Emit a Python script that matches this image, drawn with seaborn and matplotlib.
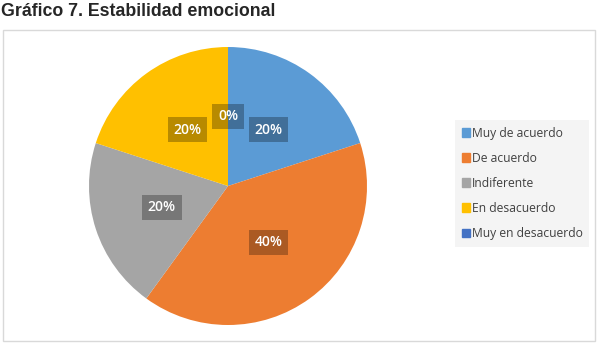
import matplotlib
matplotlib.use("Agg")
import matplotlib.pyplot as plt
import matplotlib.patches as mpatches
import seaborn as sns

categorias = ["Muy de acuerdo", "De acuerdo", "Indiferente", "En desacuerdo", "Muy en desacuerdo"]
porcentajes = [20, 40, 20, 20, 0]
colores = ["#5B9BD5", "#ED7D31", "#A5A5A5", "#FFC000", "#4472C4"]
titulo = "Gráfico 7. Estabilidad emocional"

sns.set_theme(style="white")
plt.rcParams['font.family'] = ['Open Sans', 'DejaVu Sans']

W, H = 598, 351
fig = plt.figure(figsize=(W / 100, H / 100), dpi=100)

# marco del grafico
fig.patches.append(mpatches.Rectangle((3 / W, 1 - 341 / H), 592 / W, 311 / H,
                                      transform=fig.transFigure, fill=False,
                                      edgecolor="#D9D9D9", linewidth=1))

fig.text(1 / W, 1 - 11 / H, titulo, fontsize=12.8, fontweight="bold",
         family=["Liberation Sans", "DejaVu Sans"], va="center", ha="left")

cx, cy, r = 228, 186, 139
ax = fig.add_axes([(cx - r) / W, (H - cy - r) / H, 2 * r / W, 2 * r / H])
wedges, texts, autotexts = ax.pie(porcentajes, colors=colores, startangle=90,
                                  counterclock=False, autopct="%1.0f%%",
                                  pctdistance=0.5, radius=1,
                                  wedgeprops=dict(linewidth=0, edgecolor="none"))
for t in autotexts:
    t.set_color("white")
    t.set_fontsize(10)
    t.set_fontweight("semibold")
    t.set_bbox(dict(boxstyle="square,pad=0.4", facecolor="black", alpha=0.28,
                    edgecolor="none"))
ax.set_xlim(-1, 1)
ax.set_ylim(-1, 1)
ax.set_aspect("auto")
ax.axis("off")

handles = [mpatches.Patch(color=c, label=l) for c, l in zip(colores, categorias)]
leg = fig.legend(handles=handles, loc="upper left",
                 bbox_to_anchor=(455 / W, 1 - 120 / H), fontsize=8.7,
                 frameon=True, facecolor="#F2F2F2", edgecolor="none",
                 fancybox=False, handlelength=0.7, handleheight=0.7,
                 handletextpad=0.15, labelspacing=1.0, borderpad=0.55,
                 borderaxespad=0)
for t in leg.get_texts():
    t.set_color("#404040")

fig.savefig("out.png", dpi=100)
